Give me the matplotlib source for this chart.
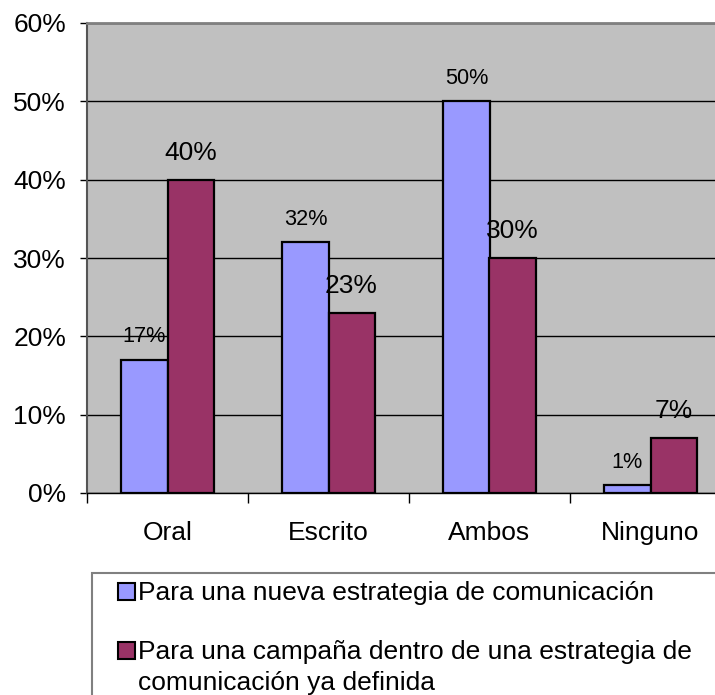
import numpy as np
import matplotlib
matplotlib.use("Agg")
import matplotlib.pyplot as plt
from matplotlib.patches import Rectangle

# Data
categories = ["Oral", "Escrito", "Ambos", "Ninguno"]
nueva_estrategia = [17, 32, 50, 1]
campana_definida = [40, 23, 30, 7]
series_names = ["Para una nueva estrategia de comunicación",
                "Para una campaña dentro de una estrategia de\ncomunicación ya definida"]
y_ticks = [0, 10, 20, 30, 40, 50, 60]

BLUE = "#9999FF"
MAROON = "#993366"
W, H = 715, 695

plt.rcParams["font.family"] = ["Liberation Sans", "DejaVu Sans"]

fig = plt.figure(figsize=(W / 100, H / 100), dpi=100)
fig.patch.set_facecolor("white")

# axes placed in pixel terms (right side runs past the picture edge)
ax = fig.add_axes([87 / W, 1 - 493 / H, (731 - 87) / W, 470 / H])
ax.set_facecolor("#C0C0C0")

x = np.arange(len(categories))
bw = 0.286
b1 = ax.bar(x - bw / 2, nueva_estrategia, bw, color=BLUE, edgecolor="black", linewidth=1.6, zorder=3)
b2 = ax.bar(x + bw / 2, campana_definida, bw, color=MAROON, edgecolor="black", linewidth=1.6, zorder=3)

# value labels
for rect, v in zip(b1, nueva_estrategia):
    ax.annotate(f"{v}%", (rect.get_x() + rect.get_width() / 2, v), xytext=(0, 12.6),
                textcoords="offset points", ha="center", va="baseline", fontsize=15.6, zorder=4)
for rect, v in zip(b2, campana_definida):
    ax.annotate(f"{v}%", (rect.get_x() + rect.get_width() / 2, v), xytext=(0, 14.4),
                textcoords="offset points", ha="center", va="baseline", fontsize=19, zorder=4)

ax.set_xlim(-0.5, len(categories) - 0.5)
ax.set_ylim(0, 60)
ax.set_yticks(y_ticks)
ax.set_yticklabels([f"{t}%" for t in y_ticks])
ax.yaxis.grid(True, color="black", linewidth=1)
ax.set_axisbelow(True)

ax.set_xticks(x)
ax.set_xticklabels(categories)
ax.set_xticks(np.arange(len(categories) + 1) - 0.5, minor=True)
ax.tick_params(axis="x", which="major", length=0, pad=20, labelsize=19)
ax.tick_params(axis="x", which="minor", length=7, width=1, color="black", direction="out")
ax.tick_params(axis="y", length=5, width=1, pad=10, labelsize=19)

for s in ["top", "right"]:
    ax.spines[s].set_color("#808080")
    ax.spines[s].set_linewidth(2)
ax.spines["left"].set_color("#555555")
ax.spines["left"].set_linewidth(1.5)
ax.spines["bottom"].set_color("black")
ax.spines["bottom"].set_linewidth(1)


def fx(px):
    return px / W


def fy(py):
    return 1 - py / H


# legend box (cut off at the right and bottom like the original)
fig.add_artist(Rectangle((fx(92), fy(720)), fx(720) - fx(92), fy(573) - fy(720),
                         transform=fig.transFigure, facecolor="none",
                         edgecolor="#808080", linewidth=1.5))
swatch_tops = [583, 642]
line_gap = 31
for top, color, name in zip(swatch_tops, [BLUE, MAROON], series_names):
    fig.add_artist(Rectangle((fx(118), fy(top + 17)), fx(17), 17 / H,
                             transform=fig.transFigure, facecolor=color,
                             edgecolor="black", linewidth=1.5))
    # baseline alignment goes by the last line, so shift for extra lines
    extra = name.count("\n") * line_gap
    fig.text(fx(138), fy(top + 17 + extra), name, fontsize=19, va="baseline", ha="left",
             linespacing=1.36)

fig.savefig("out.png", dpi=100)
